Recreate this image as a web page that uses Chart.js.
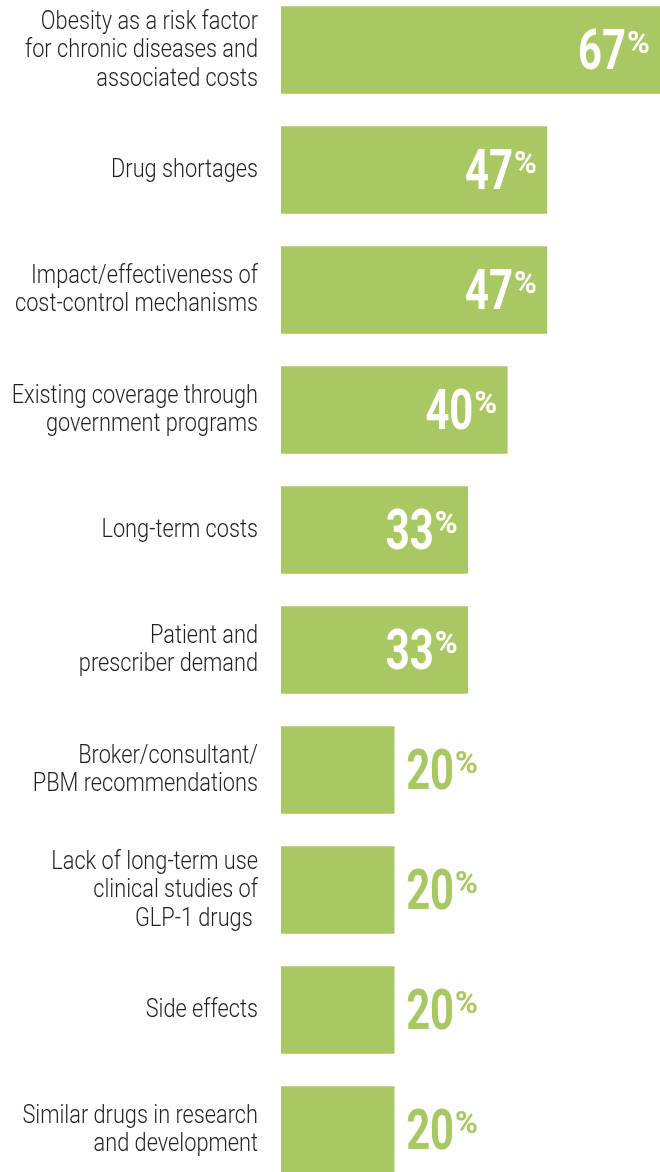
<!DOCTYPE html>
<html>
<head>
<meta charset="utf-8">
<script src="https://cdn.jsdelivr.net/npm/chart.js@4.4.1/dist/chart.umd.min.js"></script>
<style>
  html, body { margin: 0; padding: 0; background: #fff; overflow: hidden; }
  #wrap { position: absolute; left: 0; top: -10px; width: 660px; height: 1200px; }
</style>
</head>
<body>
<div id="wrap"><canvas id="myChart"></canvas></div>
<script>
const categories = [
  ["Obesity as a risk factor", "for chronic diseases and", "associated costs"],
  ["Drug shortages"],
  ["Impact/effectiveness of", "cost-control mechanisms"],
  ["Existing coverage through", "government programs"],
  ["Long-term costs"],
  ["Patient and", "prescriber demand"],
  ["Broker/consultant/", "PBM recommendations"],
  ["Lack of long-term use", "clinical studies of", "GLP-1 drugs "],
  ["Side effects"],
  ["Similar drugs in research", "and development"],
];
const values = [67, 47, 47, 40, 33, 33, 20, 20, 20, 20];

const green = "#a9c763";
const fontFam = "Roboto, 'DejaVu Sans Condensed', sans-serif";

// draw text squeezed horizontally (the original uses a condensed face)
function squeezed(ctx, text, x, y, sx, align) {
  ctx.save();
  ctx.translate(x, y);
  ctx.scale(sx, 1);
  ctx.textAlign = align;
  ctx.fillText(text, 0, 0);
  ctx.restore();
}

// category names on the left, placed from the y scale
const categoryLabels = {
  id: "categoryLabels",
  afterDraw(chart) {
    const ctx = chart.ctx;
    const yScale = chart.scales.y;
    const right = chart.chartArea.left - 23;
    ctx.save();
    ctx.fillStyle = "#231f20";
    ctx.font = "300 25px " + fontFam;
    ctx.textBaseline = "alphabetic";
    chart.data.labels.forEach((lines, i) => {
      const cy = yScale.getPixelForTick(i);
      const lh = 28.5;
      lines.forEach((line, j) => {
        const y = cy + 7 + (j - (lines.length - 1) / 2) * lh;
        squeezed(ctx, line, right, y, 0.87, "right");
      });
    });
    ctx.restore();
  },
};

// big "67%" style labels inside / next to each bar
const valueLabels = {
  id: "valueLabels",
  afterDatasetsDraw(chart) {
    const ctx = chart.ctx;
    const meta = chart.getDatasetMeta(0);
    const sx = 0.76;
    meta.data.forEach((bar, i) => {
      const v = values[i];
      const num = String(v);
      const base = bar.y + 19;
      ctx.save();
      ctx.textBaseline = "alphabetic";
      ctx.font = "bold 55px " + fontFam;
      const numW = ctx.measureText(num).width * sx;
      ctx.font = "bold 31px " + fontFam;
      const pctW = ctx.measureText("%").width;
      let x;
      if (v >= 30) {
        ctx.fillStyle = "#ffffff";
        x = bar.x - 11 - pctW - numW;
      } else {
        ctx.fillStyle = green;
        x = bar.x + 12;
      }
      ctx.font = "bold 55px " + fontFam;
      squeezed(ctx, num, x, base, sx, "left");
      ctx.font = "bold 31px " + fontFam;
      ctx.textAlign = "left";
      ctx.fillText("%", x + numW + 1, base - 16.5);
      ctx.restore();
    });
  },
};

new Chart("myChart", {
  type: "bar",
  data: {
    labels: categories,
    datasets: [
      {
        data: values,
        backgroundColor: green,
        borderWidth: 0,
        barThickness: 87,
      },
    ],
  },
  options: {
    indexAxis: "y",
    responsive: true,
    maintainAspectRatio: false,
    animation: false,
    layout: { padding: 0 },
    plugins: {
      legend: { display: false },
      tooltip: { enabled: false },
    },
    scales: {
      x: {
        display: false,
        min: 0,
        max: 67,
      },
      y: {
        grid: { display: false },
        border: { display: false },
        ticks: { display: false },
        afterFit(scale) {
          scale.width = 281;
          scale.paddingTop = 0;
          scale.paddingBottom = 0;
        },
      },
    },
  },
  plugins: [valueLabels, categoryLabels],
});
</script>
</body>
</html>
